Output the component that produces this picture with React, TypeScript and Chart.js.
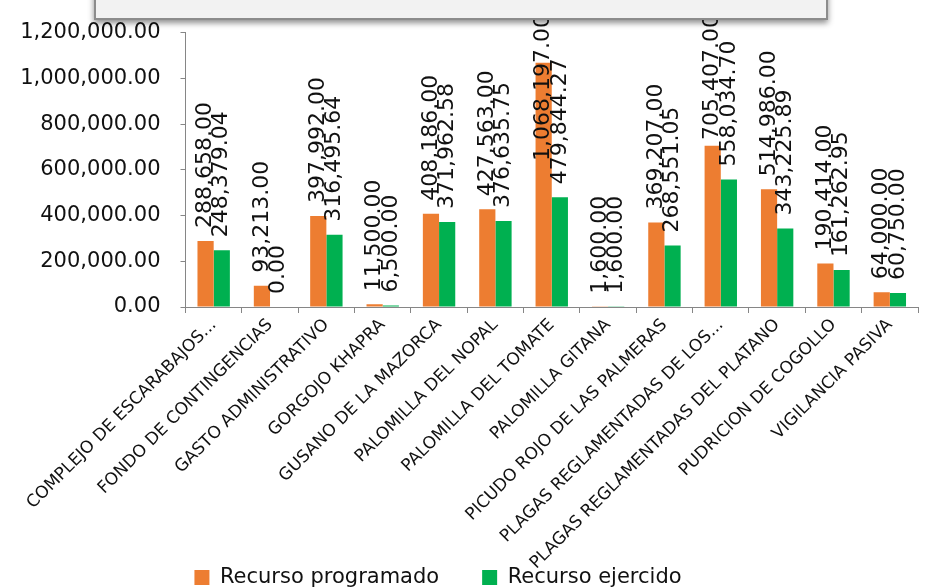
import { useEffect, useRef } from 'react';
import { Chart, registerables } from 'chart.js';

Chart.register(...registerables);

const categories = [
  'COMPLEJO DE ESCARABAJOS...',
  'FONDO DE CONTINGENCIAS',
  'GASTO ADMINISTRATIVO',
  'GORGOJO KHAPRA',
  'GUSANO DE LA MAZORCA',
  'PALOMILLA DEL NOPAL',
  'PALOMILLA DEL TOMATE',
  'PALOMILLA GITANA',
  'PICUDO ROJO DE LAS PALMERAS',
  'PLAGAS REGLAMENTADAS DE LOS...',
  'PLAGAS REGLAMENTADAS DEL PLATANO',
  'PUDRICION DE COGOLLO',
  'VIGILANCIA PASIVA',
];

const programado = [288658, 93213, 397992, 11500, 408186, 427563, 1068197, 1600, 369207, 705407, 514986, 190414, 64000];
const ejercido = [248379.04, 0, 316495.64, 6500, 371962.58, 376635.75, 479844.27, 1600, 268551.05, 558034.7, 343225.89, 161262.95, 60750];

const seriesNames = ['Recurso programado', 'Recurso ejercido'];
const seriesColors = ['#ED7D31', '#00B050'];

const yMax = 1200000;
const yStep = 200000;

const FONT = '"DejaVu Sans", "Liberation Sans", sans-serif';

const fmt = (v: number) =>
  v.toLocaleString('en-US', { minimumFractionDigits: 2, maximumFractionDigits: 2 });

const valueLabels = {
  id: 'valueLabels',
  afterDatasetsDraw(chart: any) {
    const { ctx } = chart;
    ctx.save();
    ctx.font = `22px ${FONT}`;
    ctx.fillStyle = '#111111';
    ctx.textAlign = 'left';
    ctx.textBaseline = 'middle';
    chart.data.datasets.forEach((ds: any, di: number) => {
      const meta = chart.getDatasetMeta(di);
      meta.data.forEach((el: any, i: number) => {
        const text = fmt(ds.data[i]);
        const w = ctx.measureText(text).width;
        let start = el.y - 13;
        if (start - w < 14) start = 14 + w;
        ctx.save();
        ctx.translate(el.x, start);
        ctx.rotate(-Math.PI / 2);
        ctx.fillText(text, 0, 0);
        ctx.restore();
      });
    });
    ctx.restore();
  },
};

export default function App() {
  const ref = useRef<HTMLCanvasElement | null>(null);

  useEffect(() => {
    if (!ref.current) return;
    const chart = new Chart(ref.current, {
      type: 'bar',
      data: {
        labels: categories,
        datasets: [
          { label: seriesNames[0], data: programado, backgroundColor: seriesColors[0], borderWidth: 0 },
          { label: seriesNames[1], data: ejercido, backgroundColor: seriesColors[1], borderWidth: 0 },
        ],
      },
      options: {
        responsive: false,
        animation: false,
        devicePixelRatio: 1,
        layout: { padding: { top: 31, right: 7, left: 0, bottom: 0 } },
        datasets: { bar: { categoryPercentage: 0.575, barPercentage: 1 } },
        plugins: {
          tooltip: { enabled: false },
          title: { display: false },
          legend: {
            position: 'bottom',
            labels: {
              boxWidth: 15,
              boxHeight: 15,
              padding: 43,
              color: '#111111',
              font: { family: FONT, size: 21 },
            },
          },
        },
        scales: {
          x: {
            afterFit: (s: any) => {
              s.height = 217;
              s._computeLabelArea = () => undefined;
            },
            grid: { drawOnChartArea: false, drawTicks: true, tickLength: 6, color: '#868686' },
            border: { color: '#868686', width: 1 },
            ticks: {
              autoSkip: false,
              maxRotation: 45,
              minRotation: 45,
              padding: 2,
              color: '#111111',
              font: { family: FONT, size: 17 },
            },
          },
          y: {
            min: 0,
            max: yMax,
            afterFit: (s: any) => {
              s.width = 227.5;
            },
            grid: { drawOnChartArea: false, drawTicks: true, tickLength: 5, color: '#868686' },
            border: { color: '#868686', width: 1 },
            ticks: {
              stepSize: yStep,
              padding: 20,
              color: '#111111',
              font: { family: FONT, size: 21 },
              callback: (v: any) => fmt(Number(v)),
            },
          },
        },
      },
      plugins: [valueLabels],
    });
    return () => chart.destroy();
  }, []);

  return (
    <div
      style={{
        position: 'fixed',
        left: 0,
        top: 0,
        width: 925,
        height: 588,
        overflow: 'hidden',
        background: '#ffffff',
      }}
    >
      <canvas
        ref={ref}
        width={967}
        height={598}
        style={{ position: 'absolute', left: -42, top: 0, width: 967, height: 598 }}
      />
      <div
        style={{
          position: 'absolute',
          left: 94,
          top: -12,
          width: 730,
          height: 28,
          background: '#f2f2f2',
          border: '2px solid #8c8c8c',
          boxShadow: '0 3px 6px rgba(0,0,0,0.45)',
        }}
      />
    </div>
  );
}
